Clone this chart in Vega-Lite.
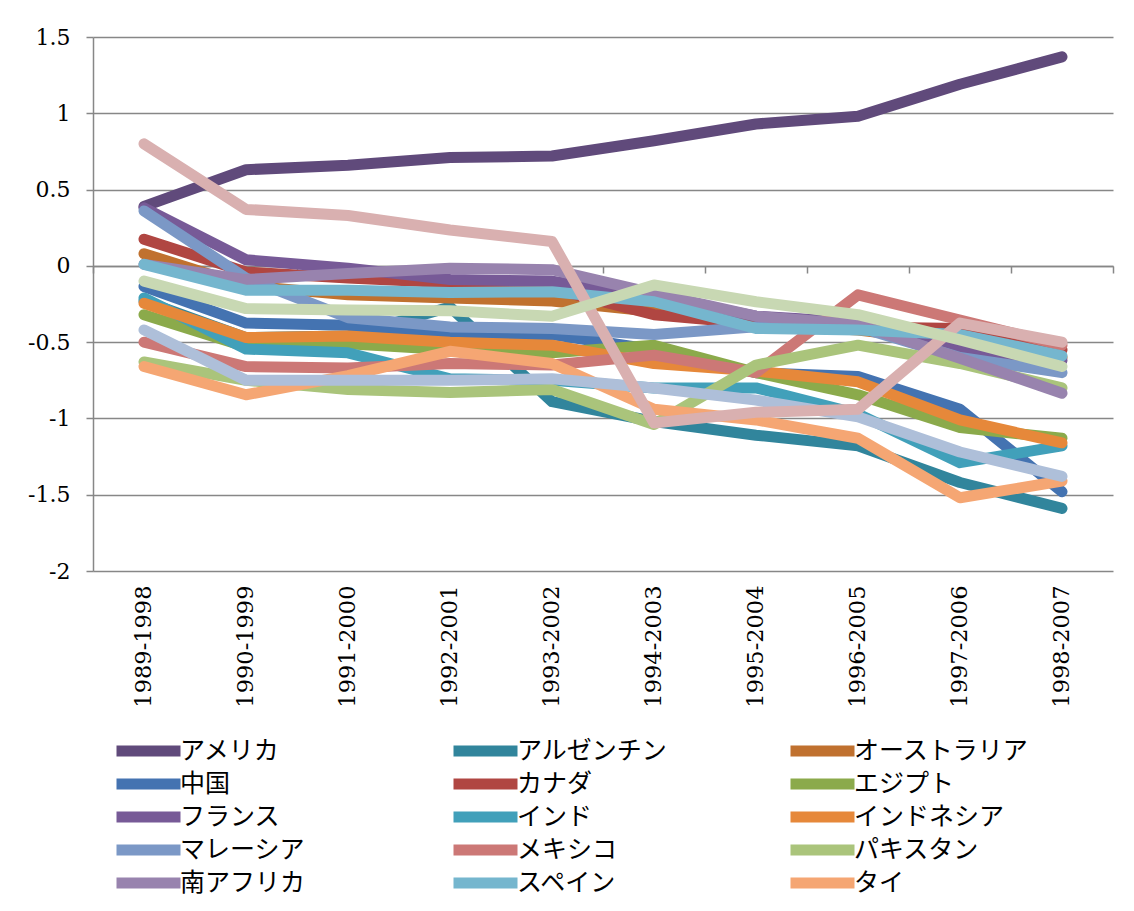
{
  "$schema": "https://vega.github.io/schema/vega-lite/v6.json",
  "width": 1020,
  "height": 534,
  "autosize": {"type": "none"},
  "padding": {"left": 93, "top": 37, "right": 21, "bottom": 340},
  "background": "white",
  "config": {
    "view": {"stroke": null},
    "axis": {"labelFont": "DejaVu Serif", "labelColor": "#000000", "titleFont": "DejaVu Serif"}
  },
  "data": {"values": [
    {"c":"アメリカ","p":"1989-1998","v":0.39},{"c":"アメリカ","p":"1990-1999","v":0.63},{"c":"アメリカ","p":"1991-2000","v":0.66},{"c":"アメリカ","p":"1992-2001","v":0.71},{"c":"アメリカ","p":"1993-2002","v":0.72},{"c":"アメリカ","p":"1994-2003","v":0.82},{"c":"アメリカ","p":"1995-2004","v":0.93},{"c":"アメリカ","p":"1996-2005","v":0.98},{"c":"アメリカ","p":"1997-2006","v":1.19},{"c":"アメリカ","p":"1998-2007","v":1.37},
    {"c":"アルゼンチン","p":"1989-1998","v":-0.23},{"c":"アルゼンチン","p":"1990-1999","v":-0.47},{"c":"アルゼンチン","p":"1991-2000","v":-0.46},{"c":"アルゼンチン","p":"1992-2001","v":-0.27},{"c":"アルゼンチン","p":"1993-2002","v":-0.89},{"c":"アルゼンチン","p":"1994-2003","v":-1.02},{"c":"アルゼンチン","p":"1995-2004","v":-1.11},{"c":"アルゼンチン","p":"1996-2005","v":-1.18},{"c":"アルゼンチン","p":"1997-2006","v":-1.42},{"c":"アルゼンチン","p":"1998-2007","v":-1.59},
    {"c":"オーストラリア","p":"1989-1998","v":0.08},{"c":"オーストラリア","p":"1990-1999","v":-0.13},{"c":"オーストラリア","p":"1991-2000","v":-0.19},{"c":"オーストラリア","p":"1992-2001","v":-0.21},{"c":"オーストラリア","p":"1993-2002","v":-0.23},{"c":"オーストラリア","p":"1994-2003","v":-0.3},{"c":"オーストラリア","p":"1995-2004","v":-0.38},{"c":"オーストラリア","p":"1996-2005","v":-0.42},{"c":"オーストラリア","p":"1997-2006","v":-0.5},{"c":"オーストラリア","p":"1998-2007","v":-0.6},
    {"c":"中国","p":"1989-1998","v":-0.135},{"c":"中国","p":"1990-1999","v":-0.375},{"c":"中国","p":"1991-2000","v":-0.39},{"c":"中国","p":"1992-2001","v":-0.455},{"c":"中国","p":"1993-2002","v":-0.45},{"c":"中国","p":"1994-2003","v":-0.55},{"c":"中国","p":"1995-2004","v":-0.7},{"c":"中国","p":"1996-2005","v":-0.725},{"c":"中国","p":"1997-2006","v":-0.94},{"c":"中国","p":"1998-2007","v":-1.48},
    {"c":"カナダ","p":"1989-1998","v":0.175},{"c":"カナダ","p":"1990-1999","v":-0.04},{"c":"カナダ","p":"1991-2000","v":-0.08},{"c":"カナダ","p":"1992-2001","v":-0.11},{"c":"カナダ","p":"1993-2002","v":-0.15},{"c":"カナダ","p":"1994-2003","v":-0.32},{"c":"カナダ","p":"1995-2004","v":-0.38},{"c":"カナダ","p":"1996-2005","v":-0.4},{"c":"カナダ","p":"1997-2006","v":-0.41},{"c":"カナダ","p":"1998-2007","v":-0.55},
    {"c":"エジプト","p":"1989-1998","v":-0.32},{"c":"エジプト","p":"1990-1999","v":-0.53},{"c":"エジプト","p":"1991-2000","v":-0.51},{"c":"エジプト","p":"1992-2001","v":-0.55},{"c":"エジプト","p":"1993-2002","v":-0.57},{"c":"エジプト","p":"1994-2003","v":-0.52},{"c":"エジプト","p":"1995-2004","v":-0.7},{"c":"エジプト","p":"1996-2005","v":-0.845},{"c":"エジプト","p":"1997-2006","v":-1.06},{"c":"エジプト","p":"1998-2007","v":-1.13},
    {"c":"フランス","p":"1989-1998","v":0.38},{"c":"フランス","p":"1990-1999","v":0.04},{"c":"フランス","p":"1991-2000","v":-0.015},{"c":"フランス","p":"1992-2001","v":-0.09},{"c":"フランス","p":"1993-2002","v":-0.1},{"c":"フランス","p":"1994-2003","v":-0.2},{"c":"フランス","p":"1995-2004","v":-0.33},{"c":"フランス","p":"1996-2005","v":-0.37},{"c":"フランス","p":"1997-2006","v":-0.55},{"c":"フランス","p":"1998-2007","v":-0.62},
    {"c":"インド","p":"1989-1998","v":-0.21},{"c":"インド","p":"1990-1999","v":-0.545},{"c":"インド","p":"1991-2000","v":-0.57},{"c":"インド","p":"1992-2001","v":-0.74},{"c":"インド","p":"1993-2002","v":-0.75},{"c":"インド","p":"1994-2003","v":-0.8},{"c":"インド","p":"1995-2004","v":-0.8},{"c":"インド","p":"1996-2005","v":-0.97},{"c":"インド","p":"1997-2006","v":-1.29},{"c":"インド","p":"1998-2007","v":-1.18},
    {"c":"インドネシア","p":"1989-1998","v":-0.245},{"c":"インドネシア","p":"1990-1999","v":-0.47},{"c":"インドネシア","p":"1991-2000","v":-0.46},{"c":"インドネシア","p":"1992-2001","v":-0.5},{"c":"インドネシア","p":"1993-2002","v":-0.52},{"c":"インドネシア","p":"1994-2003","v":-0.64},{"c":"インドネシア","p":"1995-2004","v":-0.69},{"c":"インドネシア","p":"1996-2005","v":-0.76},{"c":"インドネシア","p":"1997-2006","v":-1.01},{"c":"インドネシア","p":"1998-2007","v":-1.16},
    {"c":"マレーシア","p":"1989-1998","v":0.36},{"c":"マレーシア","p":"1990-1999","v":-0.08},{"c":"マレーシア","p":"1991-2000","v":-0.34},{"c":"マレーシア","p":"1992-2001","v":-0.4},{"c":"マレーシア","p":"1993-2002","v":-0.41},{"c":"マレーシア","p":"1994-2003","v":-0.45},{"c":"マレーシア","p":"1995-2004","v":-0.4},{"c":"マレーシア","p":"1996-2005","v":-0.4},{"c":"マレーシア","p":"1997-2006","v":-0.6},{"c":"マレーシア","p":"1998-2007","v":-0.7},
    {"c":"メキシコ","p":"1989-1998","v":-0.5},{"c":"メキシコ","p":"1990-1999","v":-0.66},{"c":"メキシコ","p":"1991-2000","v":-0.67},{"c":"メキシコ","p":"1992-2001","v":-0.64},{"c":"メキシコ","p":"1993-2002","v":-0.65},{"c":"メキシコ","p":"1994-2003","v":-0.585},{"c":"メキシコ","p":"1995-2004","v":-0.7},{"c":"メキシコ","p":"1996-2005","v":-0.19},{"c":"メキシコ","p":"1997-2006","v":-0.355},{"c":"メキシコ","p":"1998-2007","v":-0.52},
    {"c":"パキスタン","p":"1989-1998","v":-0.63},{"c":"パキスタン","p":"1990-1999","v":-0.75},{"c":"パキスタン","p":"1991-2000","v":-0.81},{"c":"パキスタン","p":"1992-2001","v":-0.83},{"c":"パキスタン","p":"1993-2002","v":-0.81},{"c":"パキスタン","p":"1994-2003","v":-1.04},{"c":"パキスタン","p":"1995-2004","v":-0.65},{"c":"パキスタン","p":"1996-2005","v":-0.52},{"c":"パキスタン","p":"1997-2006","v":-0.64},{"c":"パキスタン","p":"1998-2007","v":-0.8},
    {"c":"南アフリカ","p":"1989-1998","v":0.01},{"c":"南アフリカ","p":"1990-1999","v":-0.09},{"c":"南アフリカ","p":"1991-2000","v":-0.05},{"c":"南アフリカ","p":"1992-2001","v":-0.015},{"c":"南アフリカ","p":"1993-2002","v":-0.025},{"c":"南アフリカ","p":"1994-2003","v":-0.18},{"c":"南アフリカ","p":"1995-2004","v":-0.33},{"c":"南アフリカ","p":"1996-2005","v":-0.385},{"c":"南アフリカ","p":"1997-2006","v":-0.605},{"c":"南アフリカ","p":"1998-2007","v":-0.835},
    {"c":"スペイン","p":"1989-1998","v":0.01},{"c":"スペイン","p":"1990-1999","v":-0.16},{"c":"スペイン","p":"1991-2000","v":-0.16},{"c":"スペイン","p":"1992-2001","v":-0.175},{"c":"スペイン","p":"1993-2002","v":-0.17},{"c":"スペイン","p":"1994-2003","v":-0.235},{"c":"スペイン","p":"1995-2004","v":-0.41},{"c":"スペイン","p":"1996-2005","v":-0.42},{"c":"スペイン","p":"1997-2006","v":-0.45},{"c":"スペイン","p":"1998-2007","v":-0.59},
    {"c":"タイ","p":"1989-1998","v":-0.66},{"c":"タイ","p":"1990-1999","v":-0.845},{"c":"タイ","p":"1991-2000","v":-0.72},{"c":"タイ","p":"1992-2001","v":-0.56},{"c":"タイ","p":"1993-2002","v":-0.64},{"c":"タイ","p":"1994-2003","v":-0.94},{"c":"タイ","p":"1995-2004","v":-1.01},{"c":"タイ","p":"1996-2005","v":-1.13},{"c":"タイ","p":"1997-2006","v":-1.52},{"c":"タイ","p":"1998-2007","v":-1.41},
    {"c":"系列16","p":"1989-1998","v":-0.42},{"c":"系列16","p":"1990-1999","v":-0.75},{"c":"系列16","p":"1991-2000","v":-0.75},{"c":"系列16","p":"1992-2001","v":-0.75},{"c":"系列16","p":"1993-2002","v":-0.74},{"c":"系列16","p":"1994-2003","v":-0.8},{"c":"系列16","p":"1995-2004","v":-0.88},{"c":"系列16","p":"1996-2005","v":-0.99},{"c":"系列16","p":"1997-2006","v":-1.22},{"c":"系列16","p":"1998-2007","v":-1.38},
    {"c":"系列17","p":"1989-1998","v":0.8},{"c":"系列17","p":"1990-1999","v":0.37},{"c":"系列17","p":"1991-2000","v":0.33},{"c":"系列17","p":"1992-2001","v":0.235},{"c":"系列17","p":"1993-2002","v":0.16},{"c":"系列17","p":"1994-2003","v":-1.03},{"c":"系列17","p":"1995-2004","v":-0.96},{"c":"系列17","p":"1996-2005","v":-0.94},{"c":"系列17","p":"1997-2006","v":-0.375},{"c":"系列17","p":"1998-2007","v":-0.5},
    {"c":"系列18","p":"1989-1998","v":-0.1},{"c":"系列18","p":"1990-1999","v":-0.28},{"c":"系列18","p":"1991-2000","v":-0.29},{"c":"系列18","p":"1992-2001","v":-0.295},{"c":"系列18","p":"1993-2002","v":-0.33},{"c":"系列18","p":"1994-2003","v":-0.125},{"c":"系列18","p":"1995-2004","v":-0.235},{"c":"系列18","p":"1996-2005","v":-0.32},{"c":"系列18","p":"1997-2006","v":-0.485},{"c":"系列18","p":"1998-2007","v":-0.66}
  ]},
  "resolve": {"axis": {"x": "independent"}},
  "layer": [
    {
      "mark": {"type": "line", "strokeWidth": 11, "strokeCap": "round", "strokeJoin": "round"},
      "encoding": {
        "x": {"field": "p", "type": "ordinal", "sort": null,
          "scale": {"type": "band", "paddingInner": 0, "paddingOuter": 0},
          "axis": {"title": null, "labelAngle": -90, "labelAlign": "right", "labelBaseline": "middle", "labelFontSize": 22.5, "labelPadding": 14, "ticks": false, "domain": false, "grid": false}},
        "y": {"field": "v", "type": "quantitative",
          "scale": {"domain": [-2, 1.5], "nice": false, "zero": false},
          "axis": {"title": null, "values": [-2, -1.5, -1, -0.5, 0, 0.5, 1, 1.5], "format": "~g", "labelExpr": "replace(datum.label, '\u2212', '-')", "labelFontSize": 22, "labelPadding": 16, "tickSize": 7, "tickColor": "#878787", "domainColor": "#878787", "domainWidth": 1.5, "tickWidth": 1.5, "gridColor": "#878787", "gridWidth": 1.5, "gridOpacity": 1}},
        "color": {"field": "c", "type": "nominal",
          "scale": {
            "domain": ["アメリカ","アルゼンチン","オーストラリア","中国","カナダ","エジプト","フランス","インド","インドネシア","マレーシア","メキシコ","パキスタン","南アフリカ","スペイン","タイ","系列16","系列17","系列18"],
            "range": ["#604A7B","#31859C","#C0712F","#4473B1","#B04642","#8BAA4B","#775A97","#41A0BA","#E6883A","#7B98C6","#CC7876","#AAC47B","#9883AE","#75B6CE","#F5A673","#AEBFD9","#D9B0B0","#C8D8B3"]},
          "legend": {
            "values": ["アメリカ","アルゼンチン","オーストラリア","中国","カナダ","エジプト","フランス","インド","インドネシア","マレーシア","メキシコ","パキスタン","南アフリカ","スペイン","タイ"],
            "title": null, "orient": "none", "legendX": 20, "legendY": 702,
            "direction": "horizontal", "columns": 3, "gridAlign": "all", "columnPadding": 94, "rowPadding": 8, "clipHeight": 24,
            "symbolType": "M-3.2,0H3.2", "symbolSize": 400, "symbolStrokeWidth": 11, "symbolOffset": 20,
            "labelFont": "Noto Sans CJK JP", "labelFontSize": 25, "labelColor": "#000000", "labelOffset": 16, "labelLimit": 400}}
      }
    },
    {
      "mark": {"type": "point", "opacity": 0},
      "encoding": {
        "x": {"field": "p", "type": "ordinal", "sort": null,
          "axis": {"title": null, "orient": "bottom", "offset": -305, "labels": false, "ticks": true, "tickBand": "extent", "tickSize": 7, "tickColor": "#878787", "tickWidth": 1.5, "domain": true, "domainColor": "#878787", "domainWidth": 1.5, "grid": false}},
        "y": {"field": "v", "type": "quantitative"}
      }
    }
  ]
}
